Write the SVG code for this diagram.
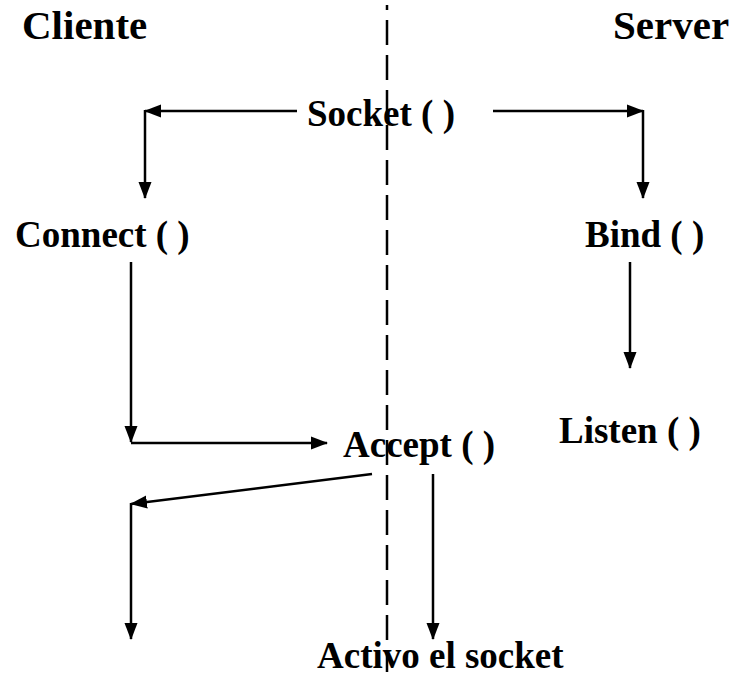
<svg xmlns="http://www.w3.org/2000/svg" width="737" height="676" viewBox="0 0 737 676">
<style>
text{font-family:"Liberation Serif","Times New Roman",serif;font-weight:bold;fill:#000;font-size:37px}
.h{font-size:41px}
.c{stroke:#000;stroke-width:2.5;fill:none}
.d{stroke:#000;stroke-width:2.5;fill:none;stroke-dasharray:25 10}
</style>
<defs>
<marker id="a" markerUnits="userSpaceOnUse" markerWidth="17" markerHeight="16" refX="16" refY="8" orient="auto">
<path d="M0,1.5 L17,8 L0,14.5 Z" fill="#000"/>
</marker>
</defs>
<g id="divider"><line class="d" x1="387" y1="5" x2="387" y2="672" stroke-dashoffset="20"/></g>
<g id="cliente"><text class="h" x="22" y="39">Cliente</text></g>
<g id="server"><text class="h" x="613" y="39">Server</text></g>
<g id="socket"><text x="307" y="126">Socket ( )</text></g>
<g id="connect"><text x="15" y="247">Connect ( )</text></g>
<g id="bind"><text x="585" y="247">Bind ( )</text></g>
<g id="listen"><text x="559" y="443">Listen ( )</text></g>
<g id="accept"><text x="343" y="457">Accept ( )</text></g>
<g id="activo"><text x="317" y="668">Activo el socket</text></g>
<g id="connectors">
<line class="c" x1="297" y1="111" x2="145" y2="111" marker-end="url(#a)"/>
<line class="c" x1="145" y1="110" x2="145" y2="198" marker-end="url(#a)"/>
<line class="c" x1="493" y1="111" x2="643" y2="111" marker-end="url(#a)"/>
<line class="c" x1="643" y1="110" x2="643" y2="198" marker-end="url(#a)"/>
<line class="c" x1="131" y1="262" x2="131" y2="442" marker-end="url(#a)"/>
<line class="c" x1="131" y1="443" x2="327" y2="443" marker-end="url(#a)"/>
<line class="c" x1="630" y1="262" x2="630" y2="368" marker-end="url(#a)"/>
<line class="c" x1="372" y1="474" x2="131" y2="504" marker-end="url(#a)"/>
<line class="c" x1="131" y1="503" x2="131" y2="639" marker-end="url(#a)"/>
<line class="c" x1="433" y1="474" x2="433" y2="639" marker-end="url(#a)"/>
</g>
</svg>
